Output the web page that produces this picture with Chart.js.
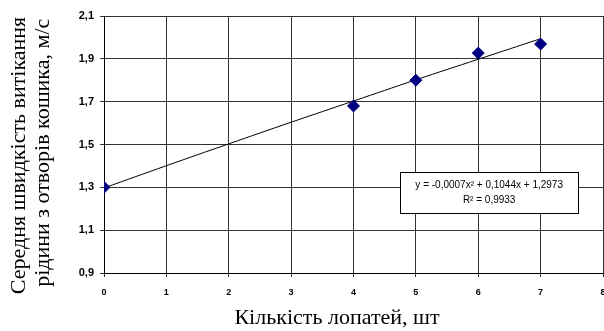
<!DOCTYPE html>
<html>
<head>
<meta charset="utf-8">
<script src="https://cdn.jsdelivr.net/npm/chart.js@4"></script>
<style>
  html, body { margin: 0; padding: 0; background: #fff; overflow: hidden; }
  #wrap { width: 604px; height: 331px; overflow: hidden; }
</style>
</head>
<body>
<div id="wrap"><canvas id="c" width="610" height="331"></canvas></div>
<script>
'use strict';

// blade counts and measured mean outflow speed
const bladeCounts = [0, 4, 5, 6, 7];
const speeds = [1.30, 1.68, 1.80, 1.927, 1.969];

// trend line (poly fit shown in the box)
const trendX = [0, 1, 2, 3, 4, 5, 6, 7];
const trendY = [1.297, 1.401, 1.503, 1.604, 1.703, 1.802, 1.898, 1.994];

const xTicks = [0, 1, 2, 3, 4, 5, 6, 7, 8];
const yTicks = [0.9, 1.1, 1.3, 1.5, 1.7, 1.9, 2.1];

const eqLines = ['y = -0,0007x² + 0,1044x + 1,2973', 'R² = 0,9933'];

const comma = v => v.toFixed(1).replace('.', ',');

// ── Equation box ─────────────────────────────────────────────────────────────
const eqBox = {
  id: 'eqBox',
  afterDraw(chart) {
    const { ctx } = chart;
    const xs = chart.scales.x, ys = chart.scales.y;
    const left = xs.getPixelForValue(4.75), right = xs.getPixelForValue(7.6);
    const top = ys.getPixelForValue(1.37), bottom = ys.getPixelForValue(1.18);
    ctx.save();
    ctx.fillStyle = '#fff';
    ctx.fillRect(left, top, right - left, bottom - top);
    ctx.strokeStyle = '#000';
    ctx.lineWidth = 1;
    ctx.strokeRect(Math.round(left) + 0.5, Math.round(top) + 0.5, Math.round(right - left), Math.round(bottom - top));
    ctx.fillStyle = '#000';
    ctx.font = '10px "Liberation Sans", Arial, sans-serif';
    ctx.textAlign = 'center';
    ctx.textBaseline = 'middle';
    const cx = (left + right) / 2;
    ctx.fillText(eqLines[0], cx, top + 13);
    ctx.fillText(eqLines[1], cx, top + 28);
    ctx.restore();
  },
};

new Chart(document.getElementById('c'), {
  type: 'scatter',
  data: {
    datasets: [
      {
        label: 'trend',
        type: 'line',
        data: trendX.map((x, i) => ({ x, y: trendY[i] })),
        borderColor: '#000',
        borderWidth: 1,
        pointRadius: 0,
        tension: 0.4,
        fill: false,
        order: 2,
      },
      {
        label: 'speed',
        data: bladeCounts.map((x, i) => ({ x, y: speeds[i] })),
        pointStyle: 'rectRot',
        pointRadius: 6,
        backgroundColor: '#000080',
        borderColor: '#000080',
        borderWidth: 1,
        order: 1,
      },
    ],
  },
  plugins: [eqBox],
  options: {
    responsive: false,
    animation: false,
    events: [],
    layout: { padding: { top: 16, right: 0, left: 0, bottom: 0 } },
    plugins: { legend: { display: false }, tooltip: { enabled: false } },
    scales: {
      x: {
        type: 'linear',
        min: 0, max: 8,
        afterBuildTicks: s => { s.ticks = xTicks.map(v => ({ value: v })); },
        afterFit: s => { s.height = 58; s.paddingLeft = 0; s.paddingRight = 0; },
        grid: { color: '#333', lineWidth: 1, tickLength: 4, drawTicks: true },
        border: { color: '#000', width: 1 },
        ticks: {
          color: '#000', padding: 10, maxRotation: 0,
          font: { family: '"Liberation Sans", Arial', size: 9, weight: 'bold' },
          callback: v => String(v),
        },
        title: {
          display: true,
          text: 'Кількість лопатей, шт      ',
          color: '#000',
          font: { family: '"Liberation Serif", "Times New Roman", serif', size: 22 },
          padding: { top: 0, bottom: 0 },
        },
      },
      y: {
        min: 0.9, max: 2.1,
        afterBuildTicks: s => { s.ticks = yTicks.map(v => ({ value: v })); },
        afterFit: s => { s.width = 104; },
        grid: { color: '#333', lineWidth: 1, tickLength: 4 },
        border: { color: '#000', width: 1 },
        ticks: {
          color: '#000', padding: 6,
          font: { family: '"Liberation Sans", Arial', size: 11, weight: 'bold' },
          callback: v => comma(v),
        },
        title: {
          display: true,
          text: ['Середня швидкість витікання    ', 'рідини з отворів кошика, м/с   '],
          color: '#000',
          font: { family: '"Liberation Serif", "Times New Roman", serif', size: 22, lineHeight: 1.1 },
          padding: { top: 7, bottom: 0 },
        },
      },
    },
  },
});
</script>
</body>
</html>
